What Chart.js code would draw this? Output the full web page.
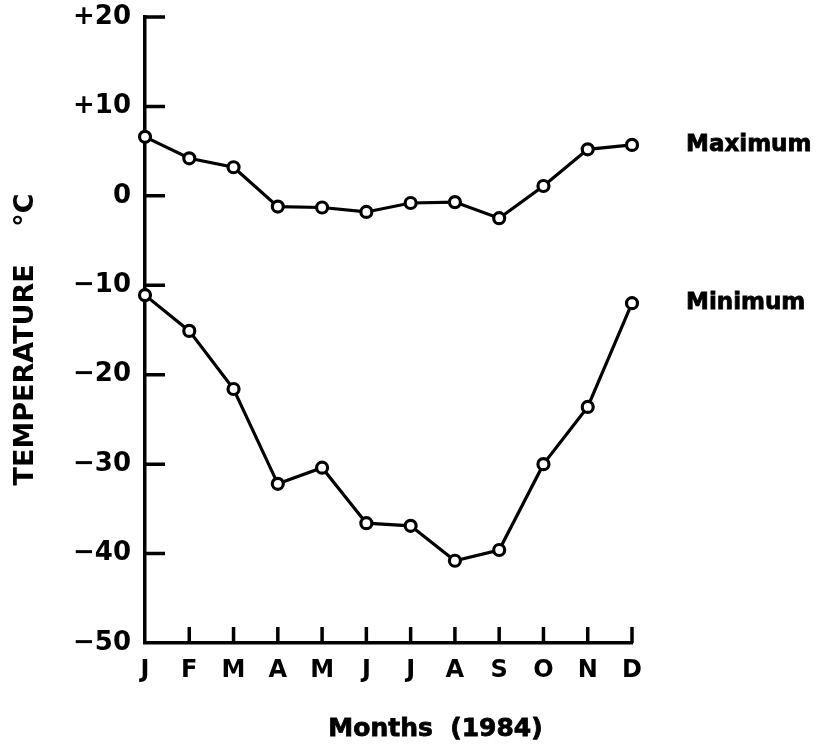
<!DOCTYPE html>
<html>
<head>
<meta charset="utf-8">
<script src="https://cdn.jsdelivr.net/npm/chart.js@4.4.1/dist/chart.umd.min.js"></script>
<style>
  html, body { margin: 0; padding: 0; background: #fff; }
  #wrap { width: 822px; height: 749px; }
</style>
</head>
<body>
<div id="wrap"><canvas id="temp-chart"></canvas></div>
<script>
// Monthly temperatures, 1984
const months = ["J", "F", "M", "A", "M", "J", "J", "A", "S", "O", "N", "D"];
const maxTemps = [6.6, 4.2, 3.2, -1.2, -1.3, -1.8, -0.8, -0.7, -2.5, 1.1, 5.2, 5.7];
const minTemps = [-11.1, -15.1, -21.6, -32.2, -30.4, -36.6, -36.9, -40.8, -39.6, -30.0, -23.6, -12.0];
const seriesNames = ["Maximum", "Minimum"];
const yMin = -50;
const yMax = 20;
const yStep = 10;
const xTitle = "Months  (1984)";

const INK = "#000";
const FONT = "'DejaVu Sans', sans-serif";

// Tick label format: +20, +10, 0, -10 ...
function fmtTick(v) {
  if (v > 0) return "+" + v;
  if (v < 0) return "\u2212" + Math.abs(v);
  return "0";
}

// Tick marks point into the plot, like the original
const inwardTicks = {
  id: "inwardTicks",
  afterDraw(chart) {
    const ctx = chart.ctx;
    const x = chart.scales.x;
    const y = chart.scales.y;
    const area = chart.chartArea;
    ctx.save();
    ctx.strokeStyle = INK;
    ctx.lineWidth = 3.5;
    ctx.lineCap = "butt";
    ctx.beginPath();
    y.ticks.forEach((t) => {
      if (t.value === yMin) return;
      const py = y.getPixelForValue(t.value);
      ctx.moveTo(area.left, py);
      ctx.lineTo(area.left + 20, py);
    });
    months.forEach((m, i) => {
      if (i === 0) return;
      const px = x.getPixelForValue(i);
      ctx.moveTo(px, area.bottom);
      ctx.lineTo(px, area.bottom - 16);
    });
    ctx.stroke();
    ctx.restore();
  },
};

// Series names at the right end of each line, plus the x title
const textLabels = {
  id: "textLabels",
  afterDatasetsDraw(chart) {
    const ctx = chart.ctx;
    const area = chart.chartArea;
    ctx.save();
    ctx.fillStyle = INK;
    ctx.strokeStyle = INK;
    ctx.lineWidth = 0.8;
    ctx.font = "bold 23px " + FONT;
    ctx.textAlign = "left";
    ctx.textBaseline = "middle";
    chart.data.datasets.forEach((ds, i) => {
      const meta = chart.getDatasetMeta(i);
      const last = meta.data[meta.data.length - 1];
      ctx.fillText(seriesNames[i], last.x + 54, last.y);
      ctx.strokeText(seriesNames[i], last.x + 54, last.y);
    });
    ctx.font = "bold 25px " + FONT;
    ctx.textAlign = "center";
    const cx = (area.left + area.right) / 2 + 47;
    ctx.fillText(xTitle, cx, 729);
    ctx.strokeText(xTitle, cx, 729);
    ctx.restore();
  },
};

function lineSet(label, data) {
  return {
    label: label,
    data: data,
    borderColor: INK,
    borderWidth: 3.2,
    pointRadius: 5.5,
    pointBorderWidth: 3.2,
    pointBackgroundColor: "#fff",
    pointBorderColor: INK,
    tension: 0,
    fill: false,
  };
}

const ctx = document.getElementById("temp-chart").getContext("2d");
new Chart(ctx, {
  type: "line",
  data: {
    labels: months,
    datasets: [lineSet(seriesNames[0], maxTemps), lineSet(seriesNames[1], minTemps)],
  },
  options: {
    responsive: true,
    maintainAspectRatio: false,
    animation: false,
    layout: { padding: { top: 17, right: 190, left: 10, bottom: 0 } },
    plugins: {
      legend: { display: false },
      tooltip: { enabled: false },
    },
    scales: {
      x: {
        type: "category",
        offset: false,
        grid: { display: false, drawTicks: false },
        border: { display: true, color: INK, width: 3.5 },
        ticks: {
          color: INK,
          padding: 13,
          maxRotation: 0,
          autoSkip: false,
          font: { family: FONT, size: 24, weight: "bold" },
        },
        afterFit(scale) {
          scale.height = 106;
          scale.paddingLeft = 0;
          scale.paddingRight = 0;
        },
      },
      y: {
        min: yMin,
        max: yMax,
        grid: { display: false, drawTicks: false },
        border: { display: true, color: INK, width: 3.5 },
        ticks: {
          stepSize: yStep,
          color: INK,
          padding: 14,
          callback: (v) => fmtTick(v),
          font: { family: FONT, size: 26, weight: "bold" },
        },
        title: {
          display: true,
          // trailing spaces nudge the visible text down a little
          text: "TEMPERATURE    \u00B0C  ",
          color: INK,
          padding: { top: 0, bottom: 0 },
          font: { family: FONT, size: 27, weight: "bold" },
        },
        afterFit(scale) {
          scale.width = 135;
          scale.paddingTop = 0;
          scale.paddingBottom = 0;
        },
      },
    },
  },
  plugins: [inwardTicks, textLabels],
});
</script>
</body>
</html>
